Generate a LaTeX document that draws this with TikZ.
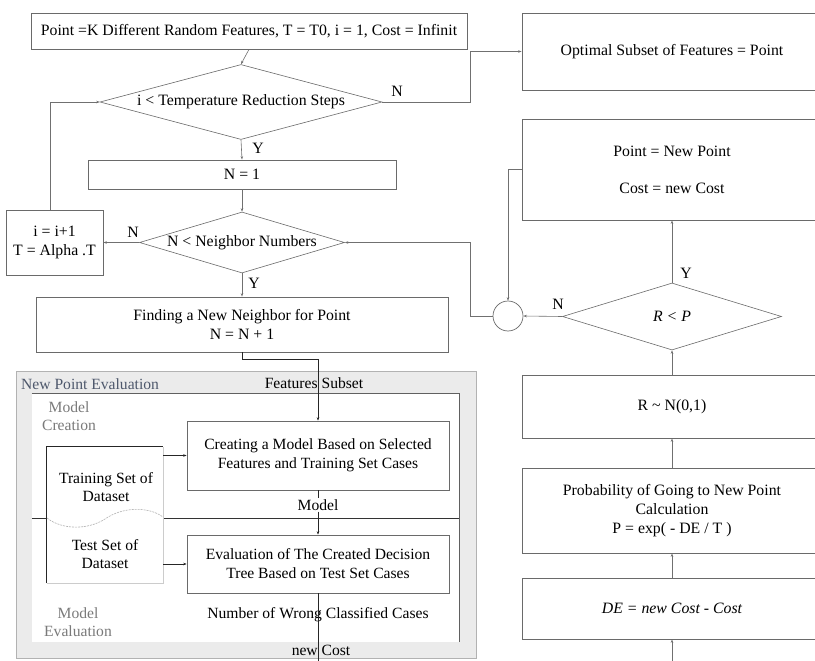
\documentclass[tikz,border=0pt]{standalone}
\usepackage{fontspec}
\setmainfont{Liberation Serif}
\usetikzlibrary{shapes.geometric,arrows.meta,calc}
\definecolor{boxc}{HTML}{6A6A6A}
\definecolor{linec}{HTML}{707070}
\definecolor{titlec}{HTML}{4E586C}
\definecolor{lanec}{HTML}{7A7A7A}
\definecolor{outerfill}{HTML}{EBEBEB}
\begin{document}
\begin{tikzpicture}[x=1pt,y=-1pt,
  mainfont/.style={font=\fontsize{15.8}{19}\selectfont},
  box/.style={draw=boxc, line width=0.8pt, fill=white, align=center, inner sep=0pt, mainfont},
  dec/.style={draw=boxc, line width=0.6pt, fill=white, shape=diamond, inner sep=0pt, align=center, mainfont},
  arr/.style={draw=linec, line width=0.6pt, -{Stealth[length=3.5pt,width=2.5pt]}},
  ln/.style={draw=linec, line width=0.6pt},
  lbl/.style={inner sep=0pt, mainfont},
  sub/.style={inner sep=0pt, font=\fontsize{15.6}{18.5}\selectfont, align=center},
  subbox/.style={draw=boxc, line width=0.7pt, fill=white, align=center, inner sep=0pt, font=\fontsize{15.6}{19}\selectfont}
]
\useasboundingbox (0,0) rectangle (815,661);
\clip (0,0) rectangle (815,661);

% ---------- left column ----------
\node[box, minimum width=436pt, minimum height=36pt] (top) at (249,31)
  {Point =K Different Random Features, T = T0, i = 1, Cost = Infinit};
\node[dec, aspect=3.76, minimum width=282pt, minimum height=75pt] (d1) at (241,102)
  {i < Temperature Reduction Steps};
\node[box, minimum width=308pt, minimum height=29pt] (n1) at (242,174.5) {N = 1};
\node[dec, aspect=3.36, minimum width=205pt, minimum height=61pt] (d2) at (242,242.5)
  {N < Neighbor Numbers};
\node[box, minimum width=97pt, minimum height=65pt, font=\fontsize{15.8}{19}\selectfont] (ibox) at (54.5,242.5)
  {i = i+1\\T = Alpha .T};
\node[box, minimum width=412pt, minimum height=55pt, font=\fontsize{15.8}{18.5}\selectfont] (find) at (242,324.5)
  {Finding a New Neighbor for Point\\N = N + 1};

% ---------- right column ----------
\node[box, minimum width=300pt, minimum height=77pt] (opt) at (672,51.5)
  {Optimal Subset of Features = Point};
\node[box, minimum width=300pt, minimum height=101pt] (pbox) at (672,169.5)
  {Point = New Point\\[18pt]Cost = new Cost};
\node[dec, aspect=3.27, minimum width=219pt, minimum height=67pt] (rp) at (672,316.5) {\itshape R < P};
\node[circle, draw=boxc, line width=0.7pt, fill=white, minimum size=30pt, inner sep=0pt] (circ) at (508,316) {};
\node[box, minimum width=300pt, minimum height=63pt] (rbox) at (672,406.5) {R \char"007E{} N(0,1)};
\node[box, minimum width=300pt, minimum height=85pt, font=\fontsize{15.8}{19}\selectfont] (prob) at (672,510.5)
  {Probability of Going to New Point\\Calculation\\P = exp( - DE / T )};
\node[box, minimum width=300pt, minimum height=61pt] (de) at (672,608.5)
  {\itshape DE = new Cost - Cost};
\coordinate (debot) at (672,661);

% ---------- connectors, upper part ----------
\draw[arr] (top.south) -- (d1.north);
\draw[arr] (d1.east) -| ([xshift=-51pt]opt.west) -- (opt.west);
\node[lbl] at (397,91) {N};
\draw[arr] ([xshift=-4.5pt]ibox.north) |- (d1.west);
\draw[arr] (d1.south) -- (n1.north);
\node[lbl] at (258,148) {Y};
\draw[arr] (n1.south) -- (d2.north);
\draw[arr] (d2.west) -- (ibox.east);
\node[lbl] at (133,232) {N};
\draw[arr] (d2.south) -- (find.north);
\node[lbl] at (254,283) {Y};
\draw[arr] (circ.west) -| ([xshift=125pt]d2.east) -- (d2.east);
\draw[arr] (rp.west) -- (circ.east);
\node[lbl] at (558,304) {N};
\draw[arr] (pbox.west) -| (circ.north);
\draw[arr] (rp.north) -- (pbox.south);
\node[lbl] at (686,273) {Y};
\draw[arr] (rbox.north) -- (rp.south);
\draw[arr] (prob.north) -- (rbox.south);
\draw[arr] (de.north) -- (prob.south);
\draw[arr] (debot) -- (de.south);

% ---------- New Point Evaluation group ----------
\node[draw=gray!60, line width=1pt, fill=outerfill, minimum width=460pt, minimum height=287pt, inner sep=0pt] (outer) at (246,514.5) {};
\node[fill=white, minimum width=427pt, minimum height=248pt, inner sep=0pt] (inner) at (245.5,517.5) {};
\draw[draw=gray!75!black, line width=0.8pt] (inner.north west) -- (inner.north east) -- (inner.south east);
\node[anchor=west, inner sep=0pt, text=titlec, font=\fontsize{15.6}{18}\selectfont] (ttl) at (21,384) {New Point Evaluation};
\node[sub, text=lanec] (lc) at (69,416) {Model\\Creation};
\node[sub, text=lanec] (le) at (78,622) {Model\\Evaluation};

% lane divider
\coordinate (divL) at (inner.west |- 0,518);
\coordinate (divR) at (inner.east |- 0,518);
\draw[ln, draw=black!80] (divL) -- (47,518);
\draw[ln, draw=black!80] (163,518) -- (divR);

% dataset shape
\node[minimum width=116pt, minimum height=136pt, inner sep=0pt] (ds) at (105,515) {};
\draw[draw=gray!40, line width=0.7pt] (ds.north east) -- (ds.south east) -- (ds.south west);
\draw[draw=black!85, line width=0.8pt] (ds.south west) -- (ds.north west) -- (ds.north east);
\draw[draw=gray!60, line width=0.6pt, dash pattern=on 2pt off 1pt]
  (47,518) .. controls (62,530) and (88,530) .. (105,519) .. controls (122,507) and (148,506) .. (163,517);
\node[sub] (tr) at (106,487) {Training Set of\\Dataset};
\node[sub] (te) at (105,554) {Test Set of\\Dataset};

\node[subbox, minimum width=262pt, minimum height=69pt] (create) at (318,455.5)
  {Creating a Model Based on Selected\\Features and Training Set Cases};
\node[subbox, minimum width=262pt, minimum height=58pt] (eval) at (318,564)
  {Evaluation of The Created Decision\\Tree Based on Test Set Cases};

\node[sub] (fs) at (314,383) {Features Subset};
\node[sub, fill=white, inner sep=1pt] (mdl) at (318,505) {Model};
\node[sub] (nw) at (318,615) {Number of Wrong Classified Cases};
\node[sub] (nc) at (321,650) {new Cost};
\coordinate (evbot) at (318,661);

\draw[arr, draw=black!85] (find.south) -- ++(0,7) -| (create.north);
\draw[ln, draw=black!85] (create.south) -- (mdl.north);
\draw[arr, draw=black!85] (mdl.south) -- (eval.north);
\draw[ln, draw=black!85] (eval.south) -- (evbot);
\draw[arr, draw=black!85] (ds.east |- create.west) -- (create.west);
\draw[arr, draw=black!85] (ds.east |- eval.west) -- (eval.west);
\end{tikzpicture}
\end{document}
